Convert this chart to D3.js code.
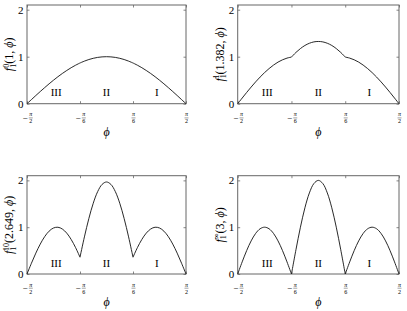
<!DOCTYPE html>
<html><head><meta charset="utf-8">
<script src="https://cdn.jsdelivr.net/npm/d3@7"></script>
<style>body{margin:0;background:#fff}svg{display:block}svg text{font-family:"Liberation Serif","Times New Roman",serif}</style></head><body>
<script>
// ---- data ----
const phi = [-90,-85,-80,-75,-70,-65,-60,-55,-50,-45,-40,-35,-30,-25,-20,-15,-10,-5,0,5,10,15,20,25,30,35,40,45,50,55,60,65,70,75,80,85,90];
const f0 = [0,0.087,0.174,0.259,0.342,0.423,0.5,0.574,0.643,0.707,0.766,0.819,0.866,0.906,0.940,0.966,0.985,0.996,1,0.996,0.985,0.966,0.940,0.906,0.866,0.819,0.766,0.707,0.643,0.574,0.5,0.423,0.342,0.259,0.174,0.087,0];
const f1 = [0,0.120,0.239,0.354,0.464,0.567,0.662,0.747,0.822,0.885,0.934,0.970,0.992,1.091,1.173,1.239,1.286,1.315,1.324,1.315,1.286,1.239,1.173,1.091,0.992,0.970,0.934,0.885,0.822,0.747,0.662,0.567,0.464,0.354,0.239,0.120,0];
const f10 = [0,0.229,0.446,0.639,0.798,0.915,0.983,0.999,0.961,0.873,0.738,0.564,0.359,0.793,1.183,1.512,1.760,1.914,1.966,1.914,1.760,1.512,1.183,0.793,0.359,0.564,0.738,0.873,0.961,0.999,0.983,0.915,0.798,0.639,0.446,0.229,0];
const finf = [0,0.259,0.5,0.707,0.866,0.966,1,0.966,0.866,0.707,0.5,0.259,0,0.518,1.0,1.414,1.732,1.932,2,1.932,1.732,1.414,1.0,0.518,0,0.259,0.5,0.707,0.866,0.966,1,0.966,0.866,0.707,0.5,0.259,0];
const yTicks = [0,1,2];
const xTicks = [-90,-30,30,90];
const xTickSign = ["−","−","",""];
const xTickNum = ["π","π","π","π"];
const xTickDen = ["2","6","6","2"];
const regionNames = ["III","II","I"];
const regionPos = [-57,0,57];
const regionBounds = [[-90,-30],[-30,30],[30,90]];
const supLabels = ["0","1","10","∞"];
const argLabels = ["1","1.382","2.649","3"];
const series = [f0,f1,f10,finf];

// ---- drawing ----
const FONT = "Liberation Serif, Times New Roman, serif";
const boxes = [[27,5,159,98.7],[237.7,5,161.3,98.7],[27,175.7,159,98.3],[237.7,175.7,161.3,98.3]];
const svg = d3.select("body").append("svg").attr("width",407).attr("height",311)
  .attr("font-family",FONT);

series.forEach((vals,i)=>{
  const [bx,by,w,h] = boxes[i];
  const g = svg.append("g").attr("transform",`translate(${bx},${by})`);
  const x = d3.scaleLinear().domain([-90,90]).range([0,w]);
  const y = d3.scaleLinear().domain([0,2.1]).range([h,0]);
  const ax = (gen,tr)=>{
    const a = g.append("g").attr("transform",tr).call(gen);
    a.select(".domain").remove();
    a.selectAll("line").attr("stroke","#666").attr("stroke-width",0.8);
    a.attr("font-family",FONT).attr("font-size",11);
    a.selectAll("text").attr("fill","#000");
    return a;
  };
  ax(d3.axisBottom(x).tickValues(xTicks).tickSize(-2.5).tickFormat(""),`translate(0,${h})`);
  ax(d3.axisTop(x).tickValues(xTicks).tickSize(-2.5).tickFormat(""),"translate(0,0)");
  ax(d3.axisLeft(y).tickValues(yTicks).tickSize(-2.5).tickPadding(3.5).tickFormat(d3.format("d")),"translate(0,0)");
  ax(d3.axisRight(y).tickValues(yTicks).tickSize(-2.5).tickFormat(""),`translate(${w},0)`);
  g.append("rect").attr("x",0).attr("y",0).attr("width",w).attr("height",h)
    .attr("fill","none").attr("stroke","#666").attr("stroke-width",1);

  // x tick labels as fractions
  xTicks.forEach((t,k)=>{
    const tg = g.append("g").attr("transform",`translate(${x(t)},${h})`);
    const fx = xTickSign[k] ? 3.8 : 0.5;
    if (xTickSign[k]) tg.append("text").attr("x",-2).attr("y",17).attr("text-anchor","middle")
      .attr("font-size",9).text(xTickSign[k]);
    tg.append("text").attr("x",fx).attr("y",12.8).attr("text-anchor","middle")
      .attr("font-size",6).attr("font-style","italic").text(xTickNum[k]);
    tg.append("line").attr("x1",fx-2).attr("x2",fx+2).attr("y1",14.2).attr("y2",14.2)
      .attr("stroke","#444").attr("stroke-width",0.5);
    tg.append("text").attr("x",fx).attr("y",19.6).attr("text-anchor","middle")
      .attr("font-size",6).text(xTickDen[k]);
  });

  // curve, drawn region by region (cusps at ±π/6)
  const line = d3.line().x(d=>x(d[0])).y(d=>y(d[1])).curve(d3.curveCatmullRom.alpha(0.5));
  const pts = phi.map((p,j)=>[p,vals[j]]);
  regionBounds.forEach(b=>{
    g.append("path").datum(pts.filter(d=>d[0]>=b[0]&&d[0]<=b[1]))
      .attr("d",line).attr("fill","none").attr("stroke","#111").attr("stroke-width",0.9);
  });

  // region labels
  regionNames.forEach((r,k)=>{
    g.append("text").attr("x",x(regionPos[k])).attr("y",h-7.4).attr("text-anchor","middle")
      .attr("font-size",11).text(r);
  });

  // x label
  g.append("text").attr("x",w/2).attr("y",h+32).attr("text-anchor","middle")
    .attr("font-size",12).attr("font-style","italic").text("ϕ");

  // y label f_1^sup(arg, ϕ)
  const yl = g.append("text").attr("transform",`translate(-14,${h/2}) rotate(-90)`)
    .attr("text-anchor","middle").attr("font-size",12);
  yl.append("tspan").attr("font-style","italic").text("f");
  yl.append("tspan").attr("font-size",8).attr("dy",2.5).text("1");
  yl.append("tspan").attr("font-size",8).attr("dx",-4).attr("dy",-7).text(supLabels[i]);
  yl.append("tspan").attr("dy",4.5).text("(" + argLabels[i] + ", ");
  yl.append("tspan").attr("font-style","italic").text("ϕ");
  yl.append("tspan").text(")");
});
</script>
</body></html>
